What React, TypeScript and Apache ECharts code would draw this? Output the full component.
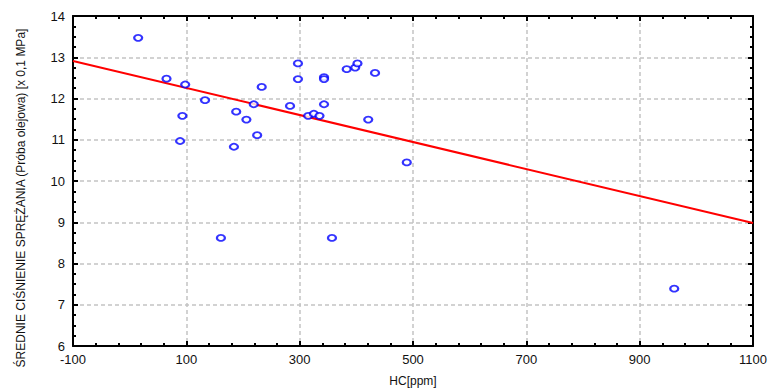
import React, { useEffect, useRef } from "react";
import * as echarts from "echarts";

const hcValues: number[] = [15, 65, 98, 133, 93, 89, 188, 206, 219, 233, 225, 184, 297, 297, 283, 315, 325, 335, 343, 343, 343, 383, 398, 402, 433, 421, 489, 161, 357, 961];
const pressureValues: number[] = [13.47, 12.48, 12.34, 11.96, 11.58, 10.97, 11.68, 11.49, 11.86, 12.28, 11.11, 10.83, 12.85, 12.47, 11.82, 11.58, 11.63, 11.58, 11.86, 12.52, 12.47, 12.71, 12.75, 12.85, 12.62, 11.49, 10.45, 8.62, 8.62, 7.39];
const fitX: number[] = [-100, 1100];
const fitY: number[] = [12.91, 8.98];

const xTitle = "HC[ppm]";
const yTitle = "ŚREDNIE CIŚNIENIE SPRĘŻANIA (Próba olejowa) [x 0,1 MPa]";

export default function App() {
  const ref = useRef<HTMLDivElement>(null);
  useEffect(() => {
    if (!ref.current) return;
    const chart = echarts.init(ref.current, undefined, { renderer: "svg" });
    const font = "Liberation Sans, Arial, sans-serif";
    const axisLine = { show: true, onZero: false, lineStyle: { color: "#000", width: 2 } };
    const tick = { show: true, inside: true, length: 5, lineStyle: { color: "#000", width: 2 } };
    const minor = (n: number) => ({ show: true, splitNumber: n, length: 3, lineStyle: { color: "#000", width: 2 } });
    const split = { show: true, lineStyle: { color: "#c4c4c4", type: [4, 3] as any, width: 1.5 } };
    const xCommon = { type: "value" as const, min: -100, max: 1100, interval: 200 };
    const yCommon = { type: "value" as const, min: 6, max: 14, interval: 1 };
    const plain = (v: number) => String(v);
    chart.setOption({
      animation: false,
      backgroundColor: "#fff",
      grid: { left: 73, right: 20, top: 16, bottom: 42 },
      graphic: [
        {
          type: "text",
          x: 21,
          y: 198,
          rotation: Math.PI / 2,
          style: {
            text: yTitle,
            align: "center",
            verticalAlign: "middle",
            fill: "#111",
            fontSize: 12,
            fontFamily: font,
          },
        },
      ],
      xAxis: [
        {
          ...xCommon,
          position: "bottom",
          axisLine,
          axisTick: tick,
          minorTick: minor(5),
          splitLine: split,
          axisLabel: { color: "#111", fontSize: 13, fontFamily: font, margin: 7, formatter: plain },
          name: xTitle,
          nameLocation: "middle",
          nameGap: 29,
          nameTextStyle: { color: "#111", fontSize: 12, fontFamily: font },
        },
        {
          ...xCommon,
          position: "top",
          axisLine,
          axisTick: tick,
          minorTick: minor(5),
          splitLine: { show: false },
          axisLabel: { show: false },
        },
      ],
      yAxis: [
        {
          ...yCommon,
          position: "left",
          axisLine,
          axisTick: tick,
          minorTick: minor(4),
          splitLine: split,
          axisLabel: { color: "#111", fontSize: 13, fontFamily: font, margin: 8, formatter: plain },
        },
        {
          ...yCommon,
          position: "right",
          axisLine,
          axisTick: tick,
          minorTick: minor(4),
          splitLine: { show: false },
          axisLabel: { show: false },
        },
      ],
      series: [
        {
          type: "line",
          data: fitX.map((x, i) => [x, fitY[i]]),
          symbol: "none",
          lineStyle: { color: "#ff0000", width: 2 },
          z: 2,
        },
        {
          type: "scatter",
          data: hcValues.map((x, i) => [x, pressureValues[i]]),
          symbol: "circle",
          symbolSize: [8, 6],
          itemStyle: { color: "#fff", borderColor: "#0000ff", borderWidth: 2 },
          z: 3,
        },
      ],
    });
    return () => chart.dispose();
  }, []);
  return <div ref={ref} style={{ width: 773, height: 392, position: "absolute", left: 0, top: 0 }} />;
}
